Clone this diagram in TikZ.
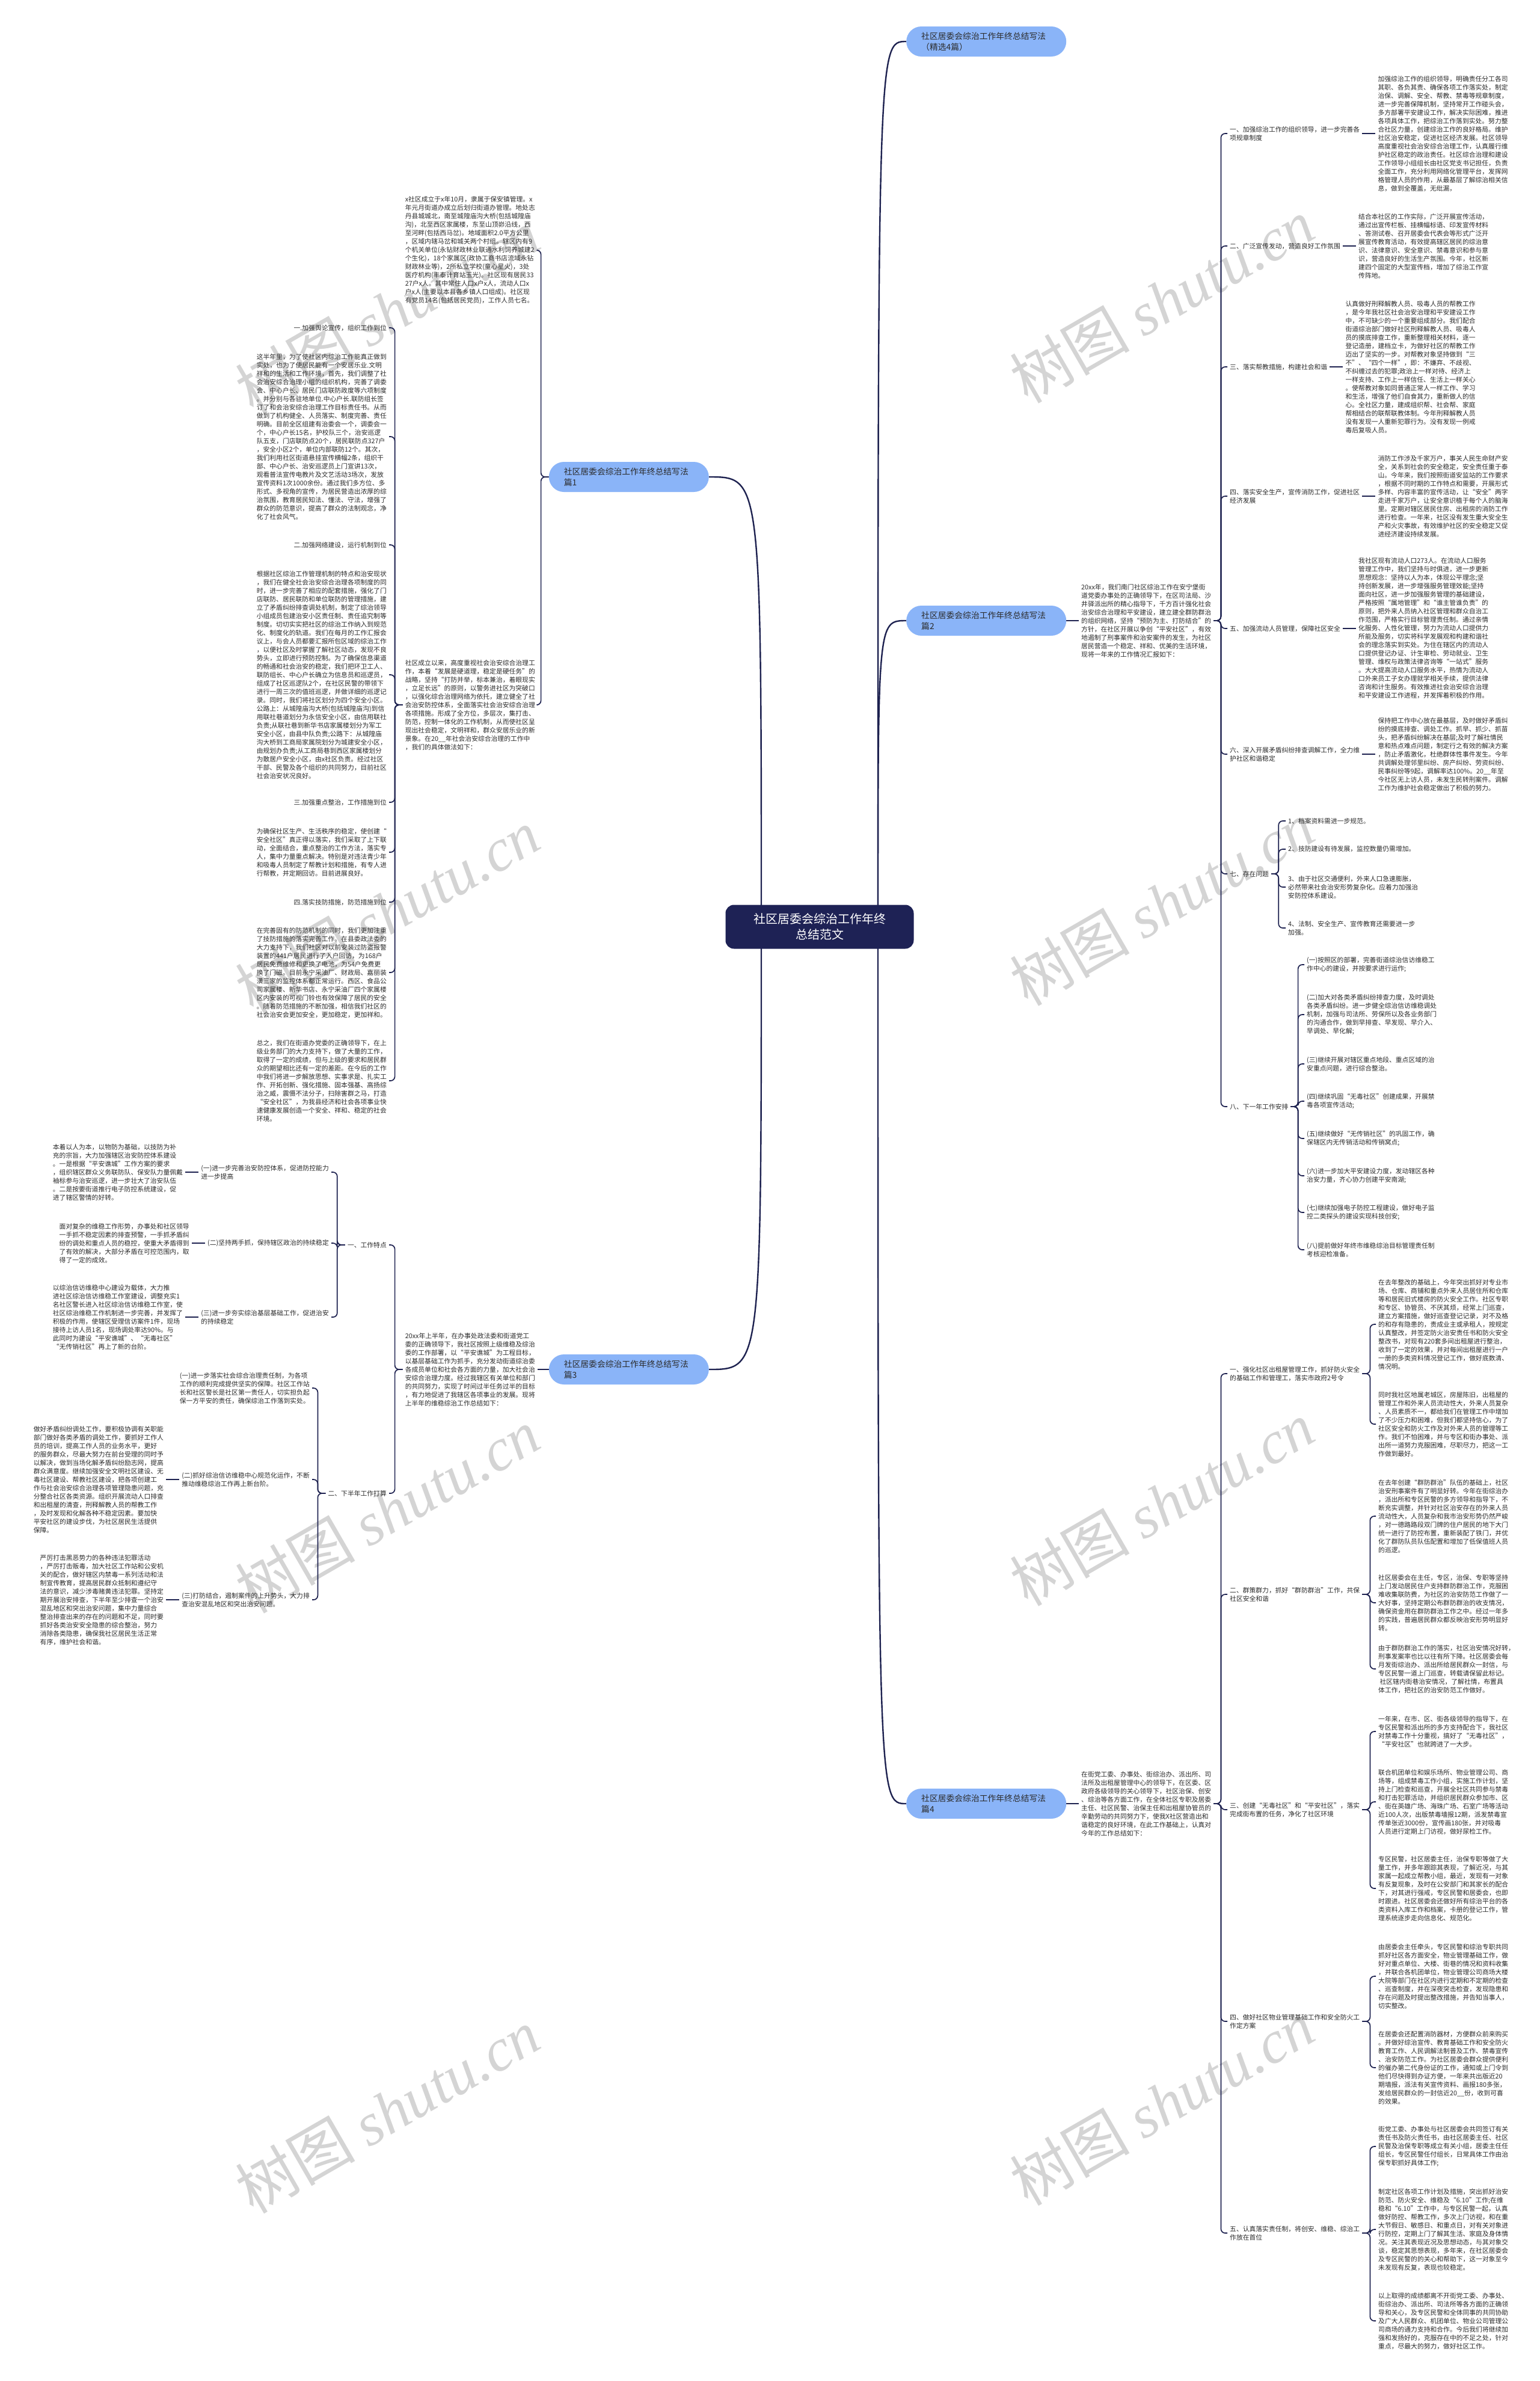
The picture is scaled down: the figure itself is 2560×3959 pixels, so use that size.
\documentclass[tikz,border=0pt]{standalone}
\usepackage{fontspec}
\newfontfamily\cjk{Noto Sans CJK SC}
\newfontfamily\wmserif{Liberation Serif}
\usetikzlibrary{calc,backgrounds}
\definecolor{linec}{HTML}{1E2250}
\definecolor{textc}{HTML}{2B2B2B}
\definecolor{branchc}{HTML}{8AB4F8}
\definecolor{rootc}{HTML}{1E2255}
\definecolor{wmc}{HTML}{D4D4D4}
\newcommand\tf{\cjk\fontsize{10.8}{14}\selectfont}
\newcommand\brf{\cjk\fontsize{13.8}{18.3}\selectfont}
\newcommand\rtf{\cjk\fontsize{20}{26}\selectfont}
\tikzset{
  txt/.style={font=\tf, text=textc, align=left, inner xsep=4pt, inner ysep=1pt},
  branch/.style={fill=branchc, rounded corners=25pt, minimum height=50pt, text width=216pt, inner xsep=25pt, inner ysep=6pt, align=left, font=\brf, text=textc},
  root/.style={fill=rootc, rounded corners=14pt, minimum width=313pt, minimum height=73pt, align=center, font=\rtf, text=white},
  conn/.style={draw=linec, line width=1.7pt, rounded corners=7pt},
  mainconn/.style={draw=linec, line width=2.4pt},
  wm/.style={rotate=30, text=wmc, font=\fontsize{100}{100}\selectfont, inner sep=0pt}
}
\begin{document}
\begin{tikzpicture}[x=1pt,y=-1pt]
\useasboundingbox (0,0) rectangle (2560,3959);

% ---------- root and branches ----------
\node[root] (root) at (1363,1541) {社区居委会综治工作年终\\总结范文};
\coordinate (rs) at (1460,1541);
\coordinate (ls) at (1266,1541);
\node[branch, anchor=west] (b1) at (1507,69) {社区居委会综治工作年终总结写法\\（精选4篇）};
\node[branch, anchor=west] (b2) at (1507,1032) {社区居委会综治工作年终总结写法\\篇2};
\node[branch, anchor=west] (b5) at (1507,2999) {社区居委会综治工作年终总结写法\\篇4};
\node[branch, anchor=east] (b3) at (1179,793) {社区居委会综治工作年终总结写法\\篇1};
\node[branch, anchor=east] (b4) at (1179,2277) {社区居委会综治工作年终总结写法\\篇3};

% ---------- 篇2 ----------
\node[txt, anchor=west] (p2i) at (1794,1032) {20xx年，我们南门社区综治工作在安宁堡街\\道党委办事处的正确领导下，在区司法局、沙\\井驿派出所的精心指导下，千方百计强化社会\\治安综合治理和平安建设，建立建全群防群治\\的组织网络，坚持“预防为主、打防结合”的\\方针，在社区开展以争创“平安社区”，有效\\地遏制了刑事案件和治安案件的发生，为社区\\居民营造一个稳定、祥和、优美的生活环境，\\现将一年来的工作情况汇报如下：};

\node[txt, anchor=west] (p2l1) at (2041,222) {一、加强综治工作的组织领导，进一步完善各\\项规章制度};
\node[txt, anchor=west] (p2t1) at ($(p2l1.east)+(22,0)$) {加强综治工作的组织领导，明确责任分工各司\\其职、各负其责、确保各项工作落实处，制定\\治保、调解、安全、帮教、禁毒等规章制度，\\进一步完善保障机制，坚持常开工作碰头会，\\多方部署平安建设工作，解决实际困难，推进\\各项具体工作，把综治工作落到实处。努力整\\合社区力量，创建综治工作的良好格局。维护\\社区治安稳定，促进社区经济发展。社区领导\\高度重视社会治安综合治理工作，认真履行维\\护社区稳定的政治责任。社区综合治理和建设\\工作领导小组组长由社区党支书记担任，负责\\全面工作，充分利用网络化管理平台，发挥网\\格管理人员的作用，从最基层了解综治相关信\\息，做到全覆盖，无纰漏，};

\node[txt, anchor=west] (p2l2) at (2041,409) {二、广泛宣传发动，营造良好工作氛围};
\node[txt, anchor=west] (p2t2) at ($(p2l2.east)+(22,0)$) {结合本社区的工作实际，广泛开展宣传活动，\\通过出宣传栏板、挂横幅标语、印发宣传材料\\、答测试卷、召开居委会代表会等形式广泛开\\展宣传教育活动，有效提高辖区居民的综治意\\识、法律意识、安全意识、禁毒意识和参与意\\识，营造良好的生活生产氛围。今年，社区新\\建四个固定的大型宣传档，增加了综治工作宣\\传阵地。};

\node[txt, anchor=west] (p2l3) at (2041,610) {三、落实帮教措施，构建社会和谐};
\node[txt, anchor=west] (p2t3) at ($(p2l3.east)+(22,0)$) {认真做好刑释解教人员、吸毒人员的帮教工作\\，是今年我社区社会治安治理和平安建设工作\\中，不可缺少的一个重要组成部分。我们配合\\街道综治部门做好社区刑释解教人员、吸毒人\\员的摸底排查工作，重新整理相关材料，逐一\\登记造册，建档立卡，为做好社区的帮教工作\\迈出了坚实的一步。对帮教对象坚持做到“三\\不”、“四个一样”，即：不嫌弃、不歧视、\\不纠缠过去的犯罪;政治上一样对待、经济上\\一样支持、工作上一样信任、生活上一样关心\\。使帮教对象如同普通正常人一样工作、学习\\和生活，增强了他们自食其力，重新做人的信\\心。全社区力量，建成组织帮、社会帮、家庭\\帮相结合的联帮联教体制。今年刑释解教人员\\没有发现一人重新犯罪行为。没有发现一例戒\\毒后复吸人员。};

\node[txt, anchor=west] (p2l4) at (2041,825) {四、落实安全生产，宣传消防工作，促进社区\\经济发展};
\node[txt, anchor=west] (p2t4) at ($(p2l4.east)+(22,0)$) {消防工作涉及千家万户，事关人民生命财产安\\全，关系到社会的安全稳定，安全责任重于泰\\山。今年来，我们按照街道安监站的工作要求\\，根据不同时期的工作特点和需要，开展形式\\多样、内容丰富的宣传活动，让“安全”两字\\走进千家万户，让安全意识植于每个人的脑海\\里。定期对辖区居民住房、出租房的消防工作\\进行检查。一年来，社区没有发生重大安全生\\产和火灾事故，有效维护社区的安全稳定又促\\进经济建设持续发展。};

\node[txt, anchor=west] (p2l5) at (2041,1045) {五、加强流动人员管理，保障社区安全};
\node[txt, anchor=west] (p2t5) at ($(p2l5.east)+(22,0)$) {我社区现有流动人口273人。在流动人口服务\\管理工作中，我们坚持与时俱进，进一步更新\\思想观念：坚持以人为本，体现公平理念;坚\\持创新发展，进一步增强服务管理效能;坚持\\面向社区，进一步加强服务管理的基础建设，\\严格按照“属地管理”和“谁主管谁负责”的\\原则，把外来人员纳入社区管理和群众自治工\\作范围，严格实行目标管理责任制。通过亲情\\化服务、人性化管理，努力为流动人口提供力\\所能及服务，切实将科学发展观和构建和谐社\\会的理念落实到实处。为住在辖区内的流动人\\口提供登记办证、计生审检、劳动就业、卫生\\管理、维权与政策法律咨询等“一站式”服务\\。大大提高流动人口服务水平，热情为流动人\\口外来员工子女办理就学相关手续，提供法律\\咨询和计生服务。有效推进社会治安综合治理\\和平安建设工作进程，并发挥着积极的作用。};

\node[txt, anchor=west] (p2l6) at (2041,1254) {六、深入开展矛盾纠纷排查调解工作，全力维\\护社区和谐稳定};
\node[txt, anchor=west] (p2t6) at ($(p2l6.east)+(22,0)$) {保持把工作中心放在最基层，及时做好矛盾纠\\纷的摸底排查、调处工作。抓早、抓少、抓苗\\头，把矛盾纠纷解决在基层;及时了解社情民\\意和热点难点问题，制定行之有效的解决方案\\，防止矛盾激化，杜绝群体性事件发生。今年\\共调解处理邻里纠纷、房产纠纷、劳资纠纷、\\民事纠纷等9起，调解率达100\%。20\_\_年至\\今社区无上访人员，未发生民转刑案件。调解\\工作为维护社会稳定做出了积极的努力。};

\node[txt, anchor=west] (p2l7) at (2041,1453) {七、存在问题};
\node[txt, anchor=west] (p2l7a) at (2138,1365) {1、档案资料需进一步规范。};
\node[txt, anchor=west] (p2l7b) at (2138,1412) {2、技防建设有待发展，监控数量仍需增加。};
\node[txt, anchor=west] (p2l7c) at (2138,1475) {3、由于社区交通便利，外来人口急速膨胀，\\必然带来社会治安形势复杂化。应着力加强治\\安防控体系建设。};
\node[txt, anchor=west] (p2l7d) at (2138,1543) {4、法制、安全生产、宣传教育还需要进一步\\加强。};

\node[txt, anchor=west] (p2l8) at (2041,1840) {八、下一年工作安排};
\node[txt, anchor=west] (p2l8a) at (2169,1604) {(一)按照区的部署，完善街道综治信访维稳工\\作中心的建设，并按要求进行运作;};
\node[txt, anchor=west] (p2l8b) at (2169,1687) {(二)加大对各类矛盾纠纷排查力度，及时调处\\各类矛盾纠纷。进一步健全综治信访维稳调处\\机制，加强与司法所、劳保所以及各业务部门\\的沟通合作，做到早排查、早发现、早介入、\\早调处、早化解;};
\node[txt, anchor=west] (p2l8c) at (2169,1769) {(三)继续开展对辖区重点地段、重点区域的治\\安重点问题，进行综合整治。};
\node[txt, anchor=west] (p2l8d) at (2169,1831) {(四)继续巩固“无毒社区”创建成果，开展禁\\毒各项宣传活动;};
\node[txt, anchor=west] (p2l8e) at (2169,1893) {(五)继续做好“无传销社区”的巩固工作，确\\保辖区内无传销活动和传销窝点;};
\node[txt, anchor=west] (p2l8f) at (2169,1955) {(六)进一步加大平安建设力度，发动辖区各种\\治安力量，齐心协力创建平安南湖;};
\node[txt, anchor=west] (p2l8g) at (2169,2016) {(七)继续加强电子防控工程建设，做好电子监\\控二类探头的建设实现科技创安;};
\node[txt, anchor=west] (p2l8h) at (2169,2078) {(八)提前做好年终市维稳综治目标管理责任制\\考核迎检准备。};

% ---------- 篇4 ----------
\node[txt, anchor=west] (p4i) at (1794,2999) {在街党工委、办事处、街综治办、派出所、司\\法所及出租屋管理中心的领导下，在区委、区\\政府各级领导的关心领导下，社区治保、创安\\、综治等各方面工作，在全体社区专职及居委\\主任、社区民警、治保主任和出租屋协管员的\\辛勤劳动的共同努力下，使我X社区营造出和\\谐稳定的良好环境，在此工作基础上，认真对\\今年的工作总结如下：};

\node[txt, anchor=west] (p4l1) at (2041,2284) {一、强化社区出租屋管理工作，抓好防火安全\\的基础工作和管理工，落实市政府2号令};
\node[txt, anchor=west] (p4t1a) at (2288,2202) {在去年整改的基础上，今年突出抓好对专业市\\场、仓库、商铺和重点外来人员居住所和仓库\\等和居民旧式楼房的防火安全工作。社区专职\\和专区、协管员、不厌其烦，经常上门巡查，\\建立方案措施，做好巡查登记记录，对不及格\\的和存有隐患的，责成业主或承租人，按规定\\认真整改，并签定防火治安责任书和防火安全\\整改书，对现有220套多间出租屋进行整治，\\收到了一定的效果，并对每间出租屋进行一户\\一册的多类资料情况登记工作，做好底数清、\\情况明。};
\node[txt, anchor=west] (p4t1b) at (2288,2368) {同时我社区地属老城区，房屋陈旧，出租屋的\\管理工作和外来人员流动性大，外来人员复杂\\、人员素质不一，都给我们在管理工作中增加\\了不少压力和困难，但我们都坚持信心，为了\\社区安全和防火工作及对外来人员的管理等工\\作。我们不怕困难，并与专区和街办事处、派\\出所一道努力克服困难，尽职尽力，把这一工\\作做到最好。};

\node[txt, anchor=west] (p4l2) at (2041,2651) {二、群策群力，抓好“群防群治”工作，共保\\社区安全和谐};
\node[txt, anchor=west] (p4t2a) at (2288,2521) {在去年创建“群防群治”队伍的基础上，社区\\治安刑事案件有了明显好转。今年在街综治办\\，派出所和专区民警的多方领导和指导下，不\\断充实调整，并针对社区治安存在的外来人员\\流动性大，人员复杂和我市治安形势仍然严峻\\，对一德路路段双门牌的住户居民的地下大门\\统一进行了防控布置，重新装配了铁门，并优\\化了群防队员队伍配置和增加了低保值班人员\\的巡逻。};
\node[txt, anchor=west] (p4t2b) at (2288,2665) {社区居委会在主任，专区，治保、专职等坚持\\上门发动居民住户支持群防群治工作，克服困\\难收集联防费，为社区的治安防范工作做了一\\大好事，坚持定期公布群防群治的收支情况，\\确保资金用在群防群治工作之中。经过一年多\\的实践，普遍居民群众都反映治安形势明显好\\转。};
\node[txt, anchor=west] (p4t2c) at (2288,2775) {由于群防群治工作的落实，社区治安情况好转，\\刑事发案率也比以往有所下降。社区居委会每\\月发街综治办、派出所给居民群众一封信，与\\专区民警一道上门巡查，转载请保留此标记。\\\ 社区辖内街巷治安情况，了解社情，布置具\\体工作，把社区的治安防范工作做好。};

\node[txt, anchor=west] (p4l3) at (2041,3009) {三、创建“无毒社区”和“平安社区”，落实\\完成街布置的任务，净化了社区环境};
\node[txt, anchor=west] (p4t3a) at (2288,2879) {一年来，在市、区、街各级领导的指导下，在\\专区民警和派出所的多方支持配合下，我社区\\对禁毒工作十分重视，搞好了“无毒社区”，\\“平安社区”也就跨进了一大步。};
\node[txt, anchor=west] (p4t3b) at (2288,2996) {联合机团单位和娱乐场所、物业管理公司、商\\场等，组成禁毒工作小组，实施工作计划，坚\\持上门检查和巡查，开展全社区共同参与禁毒\\和打击犯罪活动，并组织居民群众参加市、区\\、街在英雄广场、海珠广场、石室广场等活动\\近100人次，出版禁毒墙报12期，派发禁毒宣\\传单张近3000份，宣传画180张，并对吸毒\\人员进行定期上门访视，做好尿检工作。};
\node[txt, anchor=west] (p4t3c) at (2288,3140) {专区民警，社区居委主任，治保专职等做了大\\量工作，并多年跟踪其表现，了解近况，与其\\家属一起成立帮教小组，最近，发现有一对象\\有反复现象，及时在公安部门和其家长的配合\\下，对其进行强戒，专区民警和居委会，也即\\时跟进。社区居委会还做好所有综治平台的各\\类资料入库工作和档案，卡册的登记工作，管\\理系统逐步走向信息化、规范化。};

\node[txt, anchor=west] (p4l4) at (2041,3361) {四、做好社区物业管理基础工作和安全防火工\\作定方案};
\node[txt, anchor=west] (p4t4a) at (2288,3286) {由居委会主任牵头，专区民警和综治专职共同\\抓好社区各方面安全，物业管理基础工作，做\\好对重点单位、大楼、街巷的情况和资料收集\\，并联合各机团单位，物业管理公司商场大楼\\大院等部门在社区内进行定期和不定期的检查\\、巡查制度，并在深夜突击检查，发现隐患和\\存在问题及时提出整改措施，并告知当事人，\\切实整改。};
\node[txt, anchor=west] (p4t4b) at (2288,3438) {在居委会还配置消防器材，方便群众前来购买\\。并做好综治宣传、教育基础工作和安全防火\\教育工作、人民调解法制普及工作、禁毒宣传\\、治安防范工作。为社区居委会群众提供便利\\的催办第二代身份证的工作，通知或上门令到\\他们尽快得到办证方便，一年来共出版近20\\期墙报，派法有关宣传资料、画报180多张，\\发给居民群众的一封信近20\_\_份，收到可喜\\的效果。};

\node[txt, anchor=west] (p4l5) at (2041,3713) {五、认真落实责任制，将创安、维稳、综治工\\作放在首位};
\node[txt, anchor=west] (p4t5a) at (2288,3569) {街党工委、办事处与社区居委会共同签订有关\\责任书及防火责任书，由社区居委主任、社区\\民警及治保专职等成立有关小组，居委主任任\\组长，专区民警任付组长，日常具体工作由治\\保专职抓好具体工作;};
\node[txt, anchor=west] (p4t5b) at (2288,3707) {制定社区各项工作计划及措施，突出抓好治安\\防范、防火安全、维稳及“6.10”工作;在维\\稳和“6.10”工作中，与专区民警一起，认真\\做好防控、帮教工作，多次上门访视，和在重\\大节假日、敏感日、和重点日，对有关对象进\\行防控，定期上门了解其生活、家庭及身体情\\况。关注其表现近况及思想动态，与其对象交\\谈，稳定其思想表现，多年来，在社区居委会\\及专区民警的的关心和帮助下，这一对象至今\\未发现有反复，表现也较稳定。};
\node[txt, anchor=west] (p4t5c) at (2288,3859) {以上取得的成绩都离不开街党工委、办事处、\\街综治办、派出所、司法所等各方面的正确领\\导和关心，及专区民警和全体同事的共同协助\\及广大人民群众、机团单位、物业公司管理公\\司商场的通力支持和合作。今后我们将继续加\\强和发扬好的，克服存在中的不足之处，针对\\重点，尽最大的努力，做好社区工作。};

% ---------- 篇1 ----------
\node[txt, anchor=east] (p1i) at (894,416) {x社区成立于x年10月，隶属于保安镇管理。x\\年元月街道办成立后划归街道办管理。地处志\\丹县城城北，南至城隍庙沟大桥(包括城隍庙\\沟)，北至西区家属楼，东至山顶峁沿线，西\\至河畔(包括西马岔)。地域面积2.0平方公里\\，区域内辖马岔和城关两个村组。辖区内有9\\个机关单位(永钻财政林业联通水利饲养城建2\\个生化)，18个家属区(政协工商书店流域永钻\\财政林业等)，2所私立学校(童心星火)，3处\\医疗机构(丰泰计育站玉光)。社区现有居民33\\27户x人。其中常住人口x户x人，流动人口x\\户x人(主要以本县各乡镇人口组成)。社区现\\有党员14名(包括居民党员)，工作人员七名。};
\node[txt, anchor=east] (p1b) at (894,1172) {社区成立以来，高度重视社会治安综合治理工\\作，本着“发展是硬道理，稳定是硬任务”的\\战略，坚持“打防并举，标本兼治，着眼现实\\，立足长远”的原则，以警务进社区为突破口\\，以强化综合治理网络为依托，建立健全了社\\会治安防控体系，全面落实社会治安综合治理\\各项措施。形成了全方位，多层次，集打击、\\防范，控制一体化的工作机制，从而使社区呈\\现出社会稳定，文明祥和，群众安居乐业的新\\景象。在20\_\_年社会治安综合治理的工作中\\，我们的具体做法如下：};

\node[txt, anchor=east] (p1l1) at (647,545) {一.加强舆论宣传，组织工作到位};
\node[txt, anchor=east] (p1t1) at (647,726) {这半年里，为了使社区内综治工作能真正做到\\实处，也为了使居民能有一个安居乐业.文明\\祥和的生活和工作环境，首先，我们调整了社\\会治安综合治理小组的组织机构，完善了调委\\会、中心户长、居民门店联防政度等六项制度\\。并分别与各驻地单位.中心户长.联防组长签\\订了和会治安综合治理工作目标责任书。从而\\做到了机构健全、人员落实、制度完善、责任\\明确。目前全区组建有治委会一个，调委会一\\个，中心户长15名，护校队三个，治安巡逻\\队五支，门店联防点20个，居民联防点327户\\，安全小区2个，单位内部联防12个。其次，\\我们利用社区街道悬挂宣传横幅2条，组织干\\部、中心户长、治安巡逻员上门宣讲13次，\\观看普法宣传电教片及文艺活动3场次，发放\\宣传资料1次1000余份。通过我们多方位、多\\形式、多视角的宣传，为居民营造出浓厚的综\\治氛围，教育居民知法、懂法、守法，增强了\\群众的防范意识，提高了群众的法制观念，净\\化了社会风气。};
\node[txt, anchor=east] (p1l2) at (647,906) {二.加强网络建设，运行机制到位};
\node[txt, anchor=east] (p1t2) at (647,1122) {根据社区综治工作管理机制的特点和治安现状\\，我们在健全社会治安综合治理各项制度的同\\时，进一步完善了相应的配套措施，强化了门\\店联防、居民联防和单位联防的管理措施，建\\立了矛盾纠纷排查调处机制，制定了综治领导\\小组成员包建治安小区责任制、责任追究制等\\制度。切切实实把社区的综治工作纳入到规范\\化、制度化的轨道。我们在每月的工作汇报会\\议上，与会人员都要汇报所包区域的综治工作\\，以便社区及时掌握了解社区动态，发现不良\\势头，立即进行预防控制。为了确保信息渠道\\的畅通和社会治安的稳定，我们把环卫工人、\\联防组长、中心户长确立为信息员和巡逻员，\\组成了社区巡逻队2个，在社区民警的带领下\\进行一周三次的值班巡逻，并做详细的巡逻记\\录。同时，我们将社区划分为四个安全小区。\\公路上：从城隍庙沟大桥(包括城隍庙沟)到信\\用联社巷道划分为永信安全小区，由信用联社\\负责;从联社巷到新华书店家属楼划分为军工\\安全小区，由县中队负责;公路下：从城隍庙\\沟大桥到工商局家属院划分为城建安全小区，\\由规划办负责;从工商局巷到西区家属楼划分\\为散居户安全小区，由x社区负责。经过社区\\干部、民警及各个组织的共同努力，目前社区\\社会治安状况良好。};
\node[txt, anchor=east] (p1l3) at (647,1334) {三.加强重点整治，工作措施到位};
\node[txt, anchor=east] (p1t3) at (647,1417) {为确保社区生产、生活秩序的稳定，使创建“\\安全社区”真正得以落实，我们采取了上下联\\动，全面结合，重点整治的工作方法，落实专\\人，集中力量重点解决。特别是对违法青少年\\和吸毒人员制定了帮教计划和措施，有专人进\\行帮教，并定期回访。目前进展良好。};
\node[txt, anchor=east] (p1l4) at (647,1500) {四.落实技防措施，防范措施到位};
\node[txt, anchor=east] (p1t4) at (647,1617) {在完善固有的防范机制的同时，我们更加注重\\了技防措施的落实完善工作。在县委政法委的\\大力支持下，我们社区对以前安装过防盗报警\\装置的441户居民进行了入户回访，为168户\\居民免费维修和更换了电池，为54户免费更\\换了门磁。目前永宁采油厂、财政局、嘉丽装\\潢三家的监控体系都正常运行。西区、食品公\\司家属楼、新华书店、永宁采油厂四个家属楼\\区内安装的可视门铃也有效保障了居民的安全\\。随着防范措施的不断加强，相信我们社区的\\社会治安会更加安全，更加稳定，更加祥和。};
\node[txt, anchor=east] (p1t5) at (647,1797) {总之，我们在街道办党委的正确领导下，在上\\级业务部门的大力支持下，做了大量的工作，\\取得了一定的成绩，但与上级的要求和居民群\\众的期望相比还有一定的差距。在今后的工作\\中我们将进一步解放思想、实事求是、扎实工\\作、开拓创新、强化措施、固本强基、高扬综\\治之威，震慑不法分子，扫除害群之马，打造\\“安全社区”，为我县经济和社会各项事业快\\速健康发展创造一个安全、祥和、稳定的社会\\环境。};

% ---------- 篇3 ----------
\node[txt, anchor=east] (p3i) at (894,2277) {20xx年上半年，在办事处政法委和街道党工\\委的正确领导下，我社区按照上级维稳及综治\\委的工作部署，以“平安谯城”为工程目标，\\以基层基础工作为抓手，充分发动街道综治委\\各成员单位和社会各方面的力量，加大社会治\\安综合治理力度。经过我辖区有关单位和部门\\的共同努力，实现了时间过半任务过半的目标\\，有力地促进了我辖区各项事业的发展。现将\\上半年的维稳综治工作总结如下：};
\node[txt, anchor=east] (p3l1) at (647,2070) {一、工作特点};
\node[txt, anchor=east] (p3l1a) at (551,1949) {(一)进一步完善治安防控体系，促进防控能力\\进一步提高};
\node[txt, anchor=east] (p3l1b) at (551,2067) {(二)坚持两手抓，保持辖区政治的持续稳定};
\node[txt, anchor=east] (p3l1c) at (551,2190) {(三)进一步夯实综治基层基础工作，促进治安\\的持续稳定};
\node[txt, anchor=east] (p3t1a) at ($(p3l1a.west)+(-22,0)$) {本着以人为本，以物防为基础，以技防为补\\充的宗旨，大力加强辖区治安防控体系建设\\。一是根据“平安谯城”工作方案的要求\\，组织辖区群众义务联防队、保安队力量佩戴\\袖标参与治安巡逻，进一步壮大了治安队伍\\。二是按要街道推行电子防控系统建设，促\\进了辖区警情的好转。};
\node[txt, anchor=east] (p3t1b) at ($(p3l1b.west)+(-22,0)$) {面对复杂的维稳工作形势，办事处和社区领导\\一手抓不稳定因素的排查预警，一手抓矛盾纠\\纷的调处和重点人员的稳控，使重大矛盾得到\\了有效的解决，大部分矛盾在可控范围内，取\\得了一定的成效。};
\node[txt, anchor=east] (p3t1c) at ($(p3l1c.west)+(-22,0)$) {以综治信访维稳中心建设为载体，大力推\\进社区综治信访维稳工作室建设，调整充实1\\名社区警长进入社区综治信访维稳工作室，使\\社区综治维稳工作机制进一步完善，并发挥了\\积极的作用，使辖区受理信访案件1件，现场\\接待上访人员1名，现场调处率达90\%。与\\此同时为建设“平安谯城”、“无毒社区”\\“无传销社区”再上了新的台阶。};
\node[txt, anchor=east] (p3l2) at (647,2483) {二、下半年工作打算};
\node[txt, anchor=east] (p3l2a) at (519,2308) {(一)进一步落实社会综合治理责任制，为各项\\工作的顺利完成提供坚实的保障。社区工作站\\长和社区警长是社区第一责任人，切实担负起\\保一方平安的责任，确保综治工作落到实处。};
\node[txt, anchor=east] (p3l2b) at (519,2460) {(二)抓好综治信访维稳中心规范化运作，不断\\推动维稳综治工作再上新台阶。};
\node[txt, anchor=east] (p3l2c) at (519,2660) {(三)打防结合，遏制案件的上升势头，大力排\\查治安混乱地区和突出治安问题。};
\node[txt, anchor=east] (p3t2b) at ($(p3l2b.west)+(-22,0)$) {做好矛盾纠纷调处工作，要积极协调有关职能\\部门做好各类矛盾的调处工作，要抓好工作人\\员的培训，提高工作人员的业务水平，更好\\的服务群众，尽最大努力在前台受理的同时予\\以解决，做到当场化解矛盾纠纷励志网，提高\\群众满意度。继续加强安全文明社区建设、无\\毒社区建设、帮教社区建设，把各项创建工\\作与社会治安综合治理各项管理隐患问题，充\\分整合社区各类资源。组织开展流动人口排查\\和出租屋的清查，刑释解教人员的帮教工作\\，及时发现和化解各种不稳定因素。要加快\\平安社区的建设步伐，为社区居民生活提供\\保障。};
\node[txt, anchor=east] (p3t2c) at ($(p3l2c.west)+(-22,0)$) {严厉打击黑恶势力的各种违法犯罪活动\\，严厉打击贩毒，加大社区工作站和公安机\\关的配合，做好辖区内禁毒一系列活动和法\\制宣传教育，提高居民群众抵制和遵纪守\\法的意识，减少涉毒赌黄违法犯罪。坚持定\\期开展治安排查，下半年至少排查一个治安\\混乱地区和突出治安问题，集中力量综合\\整治排查出来的存在的问题和不足，同时要\\抓好各类治安安全隐患的综合整治，努力\\消除各类隐患，确保我社区居民生活正常\\有序，维护社会和谐。};

% ---------- background: watermarks and connectors ----------
\begin{pgfonlayer}{background}
\fill[white] (0,0) rectangle (2560,3959);
\foreach \wx/\wy in {644/518, 1932/500, 644/1515, 1932/1502, 644/2512, 1932/2500, 644/3510, 1932/3497}
  \node[wm] at (\wx,\wy) {\cjk 树图 \wmserif\itshape shutu.cn};

% main curves
\draw[mainconn] (rs) .. controls (rs |- b1.west) .. (b1.west);
\draw[mainconn] (rs) .. controls (rs |- b2.west) .. (b2.west);
\draw[mainconn] (rs) .. controls (rs |- b5.west) .. (b5.west);
\draw[mainconn] (ls) .. controls (ls |- b3.east) .. (b3.east);
\draw[mainconn] (ls) .. controls (ls |- b4.east) .. (b4.east);

% 篇2
\draw[conn] (b2.east) -- (p2i.west);
\foreach \c in {p2l1,p2l2,p2l3,p2l4,p2l5,p2l6,p2l7,p2l8}
  \draw[conn] (p2i.east) -- ++(12,0) |- (\c.west);
\foreach \a/\b in {p2l1/p2t1,p2l2/p2t2,p2l3/p2t3,p2l4/p2t4,p2l5/p2t5,p2l6/p2t6}
  \draw[conn] (\a.east) -- (\b.west);
\foreach \c in {p2l7a,p2l7b,p2l7c,p2l7d}
  \draw[conn] (p2l7.east) -- ++(12,0) |- (\c.west);
\foreach \c in {p2l8a,p2l8b,p2l8c,p2l8d,p2l8e,p2l8f,p2l8g,p2l8h}
  \draw[conn] (p2l8.east) -- ++(12,0) |- (\c.west);

% 篇4
\draw[conn] (b5.east) -- (p4i.west);
\foreach \c in {p4l1,p4l2,p4l3,p4l4,p4l5}
  \draw[conn] (p4i.east) -- ++(12,0) |- (\c.west);
\foreach \c in {p4t1a,p4t1b}
  \draw[conn] (p4l1.east) -- ++(13,0) |- (\c.west);
\foreach \c in {p4t2a,p4t2b,p4t2c}
  \draw[conn] (p4l2.east) -- ++(13,0) |- (\c.west);
\foreach \c in {p4t3a,p4t3b,p4t3c}
  \draw[conn] (p4l3.east) -- ++(13,0) |- (\c.west);
\foreach \c in {p4t4a,p4t4b}
  \draw[conn] (p4l4.east) -- ++(13,0) |- (\c.west);
\foreach \c in {p4t5a,p4t5b,p4t5c}
  \draw[conn] (p4l5.east) -- ++(13,0) |- (\c.west);

% 篇1
\foreach \c in {p1i,p1b}
  \draw[conn] (b3.west) -- ++(-13,0) |- (\c.east);
\foreach \c in {p1l1,p1t1,p1l2,p1t2,p1l3,p1t3,p1l4,p1t4,p1t5}
  \draw[conn] (p1b.west) -- ++(-13,0) |- (\c.east);

% 篇3
\draw[conn] (b4.west) -- (p3i.east);
\foreach \c in {p3l1,p3l2}
  \draw[conn] (p3i.west) -- ++(-13,0) |- (\c.east);
\foreach \c in {p3l1a,p3l1b,p3l1c}
  \draw[conn] (p3l1.west) -- ++(-13,0) |- (\c.east);
\foreach \c in {p3l2a,p3l2b,p3l2c}
  \draw[conn] (p3l2.west) -- ++(-13,0) |- (\c.east);
\foreach \a/\b in {p3l1a/p3t1a,p3l1b/p3t1b,p3l1c/p3t1c,p3l2b/p3t2b,p3l2c/p3t2c}
  \draw[conn] (\a.west) -- (\b.east);
\end{pgfonlayer}
\end{tikzpicture}
\end{document}
